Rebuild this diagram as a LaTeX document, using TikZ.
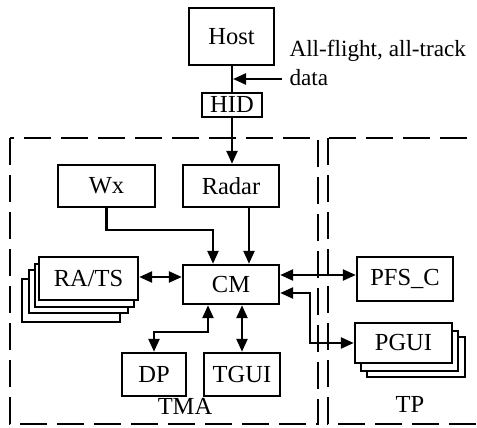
\documentclass[tikz,border=0pt]{standalone}
\usepackage{fontspec}
\setmainfont{Liberation Serif}
\usetikzlibrary{arrows.meta}
\begin{document}
\begin{tikzpicture}[x=1pt,y=-1pt,
  font=\fontsize{24.5}{29}\selectfont,
  box/.style={draw,line width=2.4pt,fill=white,inner sep=0pt,minimum width=#1},
  box/.default=96pt,
  back/.style={draw,line width=2.4pt,fill=white},
  arr/.style={line width=2.4pt,-{Triangle[length=13pt,width=11pt]}},
  darr/.style={line width=2.4pt,{Triangle[length=13pt,width=11pt]}-{Triangle[length=13pt,width=11pt]}},
  plain/.style={line width=2.4pt},
  region/.style={line width=2.6pt,dash pattern=on 27pt off 10pt}]
\useasboundingbox (0,0) rectangle (477,428);
\begin{scope}
\clip (0,0) rectangle (477,428);
% regions
\draw[region] (10,138) rectangle (318,424);
\draw[region] (328,138) rectangle (500,424);
\end{scope}
% boxes
\node[box=85pt,minimum height=57pt] (host) at (231.5,36.5) {Host};
\node[box=60pt,minimum height=24pt] (hid) at (232,105) {HID};
\node[box=97pt,minimum height=42pt] (wx) at (106.5,186) {Wx};
\node[box=96pt,minimum height=42pt] (radar) at (231,186) {Radar};
\node[box=96pt,minimum height=39pt] (cm) at (231,284.5) {CM};
% RA/TS stack
\draw[back] (22,279) rectangle (120,322);
\draw[back] (29,270) rectangle (128,313);
\draw[back] (35,264) rectangle (134,307);
\node[box=99pt,minimum height=43pt] (ra) at (88.5,278.5) {RA/TS};
\node[box=96pt,minimum height=44pt] (pfs) at (405,279) {PFS\_C};
% PGUI stack
\draw[back] (367,337) rectangle (465,377);
\draw[back] (361,331) rectangle (458,371);
\node[box=97pt,minimum height=40pt] (pgui) at (403.5,343) {PGUI};
\node[box=64pt,minimum height=43pt] (dp) at (154,374.5) {DP};
\node[box=76pt,minimum height=43pt] (tgui) at (242,374.5) {TGUI};
% labels
\node[anchor=base west,align=left,font=\fontsize{23.2}{29}\selectfont] (lbl) at (286,86) {All-flight, all-track\\data};
\node (tma) at (185,406) {TMA};
\node (tp) at (410,404) {TP};
% connectors
\draw[plain] ([xshift=0.5pt]host.south) -- (hid.north);
\coordinate (lblstart) at (282,79);
\coordinate (tap) at (233,79);
\draw[arr] (lblstart) -- (tap);
\draw[arr] (hid.south) -- (radar.north -| hid.south);
\draw[arr] (wx.south) -- (wx.south |- 0,230) -| ([xshift=-18pt]cm.north);
\draw[arr] ([xshift=18pt]radar.south) -- ([xshift=18pt]cm.north);
\draw[darr] (ra.east |- 0,277) -- (cm.west |- 0,277);
\draw[darr] (cm.east |- 0,275) -- (pfs.west |- 0,275);
\draw[darr] (cm.east |- 0,293) -- (310,293) |- (pgui.west);
\draw[darr] ([xshift=-23pt]cm.south) -- ++(0,27) -| (dp.north);
\draw[darr] ([xshift=11pt]cm.south) -- (tgui.north -| cm.south -| 242,0);
\end{tikzpicture}
\end{document}
